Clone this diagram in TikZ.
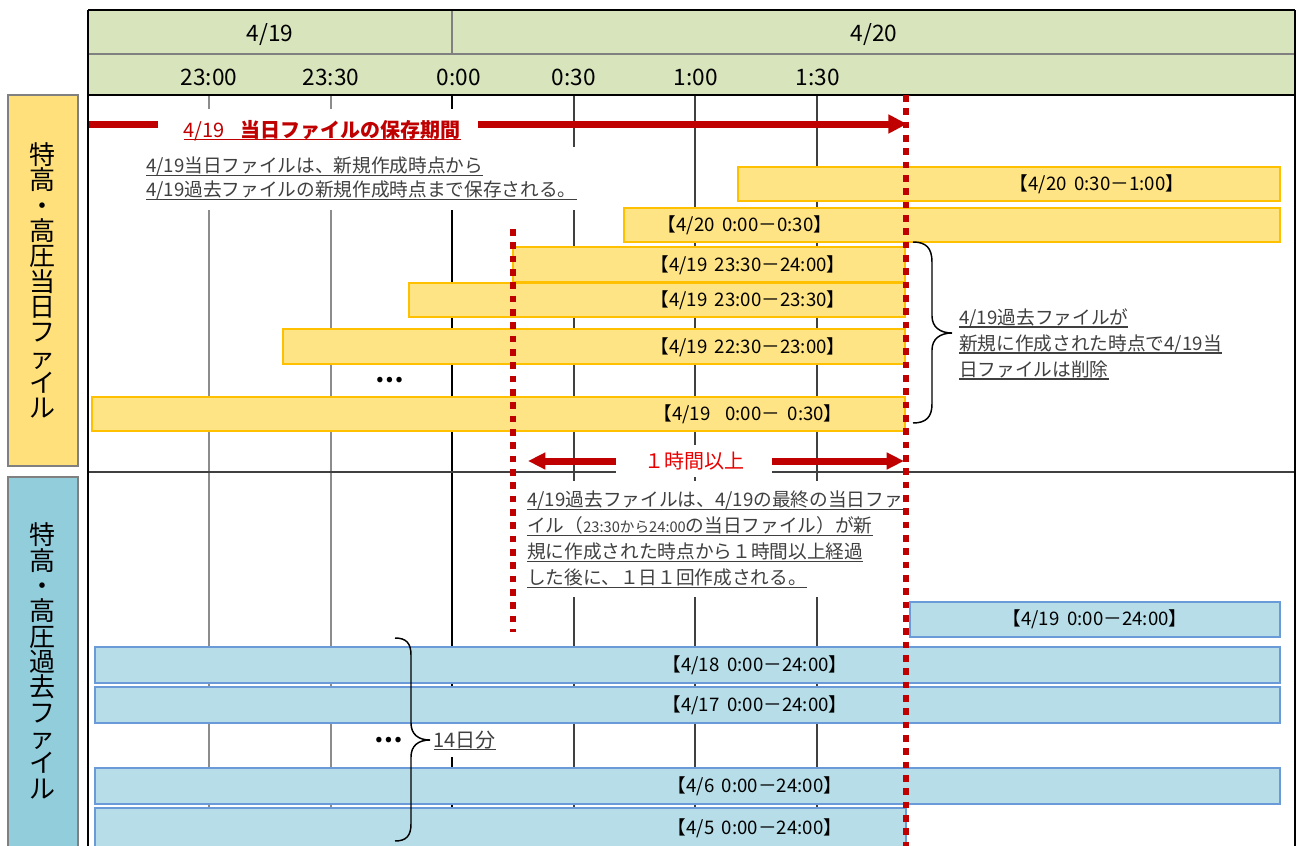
\documentclass[tikz,border=0pt]{standalone}
\usepackage{fontspec}
\setmainfont{Noto Sans CJK JP}
\usetikzlibrary{arrows.meta,fit}
\definecolor{hdrgreen}{HTML}{D8E4BC}
\definecolor{labyellow}{HTML}{FFE07A}
\definecolor{labblue}{HTML}{92CDDC}
\definecolor{baryel}{HTML}{FFE485}
\definecolor{baryelb}{HTML}{FFC000}
\definecolor{barblu}{HTML}{B7DEE8}
\definecolor{barblub}{HTML}{6A9BD8}
\definecolor{darkred}{HTML}{C00000}
\definecolor{hrred}{HTML}{E80000}
\definecolor{txtgray}{HTML}{404040}
\definecolor{gridgray}{HTML}{8C8C8C}
\newcommand\myul[1]{\setbox0=\hbox{#1}\rlap{\rule[-2.6pt]{\wd0}{0.9pt}}\box0}
\newcommand\gsp{\hspace{0.4em}}
\begin{document}
\begin{tikzpicture}[x=0.75pt,y=-0.75pt,
  ybarst/.style={fill=baryel, draw=baryelb, line width=1.2pt, inner sep=0pt},
  bbarst/.style={fill=barblu, draw=barblub, line width=1.5pt, inner sep=0pt},
  bartext/.style={font=\fontsize{14}{16}\selectfont, inner sep=0pt},
  hdrtext/.style={font=\fontsize{17}{20}\selectfont},
  note/.style={font=\fontsize{14}{18}\selectfont, text=txtgray, align=left, fill=white, anchor=north west},
  gridln/.style={line width=1.5pt},
  reddot/.style={draw=darkred, line width=4.5pt, dash pattern=on 5pt off 5pt},
  redarr/.style={draw=darkred, line width=5.25pt, -{Triangle[length=14pt,width=13.5pt]}},
  redarrb/.style={draw=darkred, line width=5.25pt, -{Triangle[length=13pt,width=12pt]}},
  vlabel/.style={font=\fontsize{19.5}{19}\selectfont, align=center, inner sep=0pt},
  bracest/.style={draw=black, line width=1.1pt},
  labbox/.style={draw=gray, line width=1pt, inner sep=0pt},
]
\useasboundingbox (0,0) rectangle (1297,846);

% header band
\fill[hdrgreen] (88,10) rectangle (1295,95);
\draw[gray, line width=0.8pt] (88,54) -- (1295,54);
\draw[gray, line width=0.8pt] (452,10) -- (452,54);
\node[hdrtext] (d19) at (270,35) {4/19};
\node[hdrtext] (d20) at (874,35) {4/20};
\node[hdrtext] (h2300) at (209,77) {23:00};
\node[hdrtext] (h2330) at (331,77) {23:30};
\node[hdrtext] (h0000) at (459,77) {0:00};
\node[hdrtext] (h0030) at (574,77) {0:30};
\node[hdrtext] (h0100) at (696,77) {1:00};
\node[hdrtext] (h0130) at (818,77) {1:30};

% grid lines
\draw[gridln, gridgray] (209,95) -- (209,846);
\draw[gridln, gridgray] (331,95) -- (331,846);
\draw[black, line width=1.8pt] (452,95) -- (452,846);
\draw[gridln, txtgray] (574,95) -- (574,846);
\draw[gridln, txtgray] (695,95) -- (695,846);
\draw[gridln, txtgray] (817,95) -- (817,846);
\draw[txtgray, line width=1.5pt] (88,472) -- (1295,472);
\draw[black, line width=1.5pt] (88,95) -- (1295,95);

% notes
\node[font=\fontsize{15}{18}\selectfont\bfseries, text=darkred, fill=white, inner xsep=10pt, inner ysep=8pt, anchor=base west] (ttl) at (170,137) {\myul{\mdseries 4/19\gsp\gsp{}\bfseries 当日ファイルの保存期間}};
\node[note, inner xsep=3pt, inner ysep=7.5pt] (n1) at (142,147) {\myul{4/19当日ファイルは、新規作成時点から}\\
\myul{4/19過去ファイルの新規作成時点まで保存される。}};
\node[note, font=\fontsize{14}{19.5}\selectfont, inner xsep=3pt, inner ysep=7pt] (n2) at (523,481) {\myul{4/19過去ファイルは、4/19の最終の当日ファ}\\
\myul{イル（{\fontsize{11}{12}\selectfont 23:30から24:00}の当日ファイル）が新}\\
\myul{規に作成された時点から１時間以上経過}\\
\myul{した後に、１日１回作成される。}};
\node[note, font=\fontsize{14}{19.5}\selectfont, inner sep=3pt] (n3) at (955,304) {\myul{4/19過去ファイルが}\\
\myul{新規に作成された時点で4/19当}\\
\myul{日ファイルは削除}};
\node[font=\fontsize{15}{18}\selectfont, text=hrred, fill=white, inner xsep=21pt, inner ysep=5pt] (hr) at (694,461) {１時間以上};
\node[font=\fontsize{19}{20}\selectfont\bfseries] (dots1) at (390,380) {…};
\node[font=\fontsize{19}{20}\selectfont\bfseries] (dots2) at (389,740) {…};
\node[note, font=\fontsize{15}{18}\selectfont, inner xsep=1pt, inner ysep=5pt, anchor=base west] (n14) at (432,747) {\myul{14日分}};

% yellow bars
\node[ybarst, fit={(738,167) (1280,201)}] (y1) {};
\node[bartext] (y1t) at (1097,184) {【4/20\gsp 0:30－1:00】};
\node[ybarst, fit={(624,208) (1280,242)}] (y2) {};
\node[bartext] (y2t) at (745,225) {【4/20\gsp 0:00－0:30】};
\node[ybarst, fit={(513,247) (905,282)}] (y3) {};
\node[bartext] (y3t) at (748,265) {【4/19\gsp 23:30－24:00】};
\node[ybarst, fit={(409,283) (905,317)}] (y4) {};
\node[bartext] (y4t) at (748,300) {【4/19\gsp 23:00－23:30】};
\node[ybarst, fit={(283,329) (905,364)}] (y5) {};
\node[bartext] (y5t) at (748,347) {【4/19\gsp 22:30－23:00】};
\node[ybarst, fit={(92,397) (905,431)}] (y6) {};
\node[bartext] (y6t) at (748,414) {【4/19\gsp\gsp 0:00－\gsp 0:30】};

% blue bars
\node[bbarst, fit={(910,602) (1280,637)}] (b1) {};
\node[bartext] (b1t) at (1095,619) {【4/19\gsp 0:00－24:00】};
\node[bbarst, fit={(95,647) (1280,683)}] (b2) {};
\node[bartext] (b2t) at (755,665) {【4/18\gsp 0:00－24:00】};
\node[bbarst, fit={(95,687) (1280,723)}] (b3) {};
\node[bartext] (b3t) at (755,705) {【4/17\gsp 0:00－24:00】};
\node[bbarst, fit={(95,768) (1280,804)}] (b4) {};
\node[bartext] (b4t) at (755,786) {【4/6\gsp 0:00－24:00】};
\node[bbarst, fit={(95,808) (906,852)}] (b5) {};
\node[bartext] (b5t) at (755,828) {【4/5\gsp 0:00－24:00】};

% red arrows
\coordinate (tA) at (89,124);
\coordinate (tB) at (158,124);
\coordinate (tC) at (478,124);
\coordinate (tD) at (907,124);
\draw[darkred, line width=5.25pt] (tA) -- (tB);
\draw[redarr] (tC) -- (tD);
\coordinate (hrL) at (528,461);
\coordinate (hrR) at (904,461);
\draw[redarrb] (hr.west) -- (hrL);
\draw[redarrb] (hr.east) -- (hrR);

% red dotted lines
\draw[reddot] (906,95) -- (906,846);
\draw[reddot] (513,229) -- (513,632);

% braces
\draw[bracest] (913,242) .. controls (926,242) and (932,248) .. (932,262) -- (932,316)
  .. controls (932,327) and (940,333) .. (952,333)
  .. controls (940,333) and (932,339) .. (932,350) -- (932,404)
  .. controls (932,417) and (926,423) .. (913,423);
\draw[bracest] (395,638) .. controls (406,638) and (411,643) .. (411,655) -- (411,723)
  .. controls (411,734) and (418,740) .. (430,740)
  .. controls (418,740) and (411,746) .. (411,757) -- (411,824)
  .. controls (411,836) and (406,841) .. (395,841);

% frame
\draw[black, line width=2pt] (88,10) -- (1295,10);
\draw[black, line width=2.2pt] (88,10) -- (88,846);
\draw[black, line width=2pt] (1295,10) -- (1295,846);

% side labels
\node[labbox, fill=labyellow, fit={(8,95) (78,466)}] (ylab) {};
\node[vlabel] (ylabt) at (ylab.center) {特\\高\\・\\高\\圧\\当\\日\\フ\\ァ\\イ\\ル};
\node[labbox, fill=labblue, fit={(8,477) (78,852)}] (blab) {};
\node[vlabel] (blabt) at (43,661) {特\\高\\・\\高\\圧\\過\\去\\フ\\ァ\\イ\\ル};
\end{tikzpicture}
\end{document}
